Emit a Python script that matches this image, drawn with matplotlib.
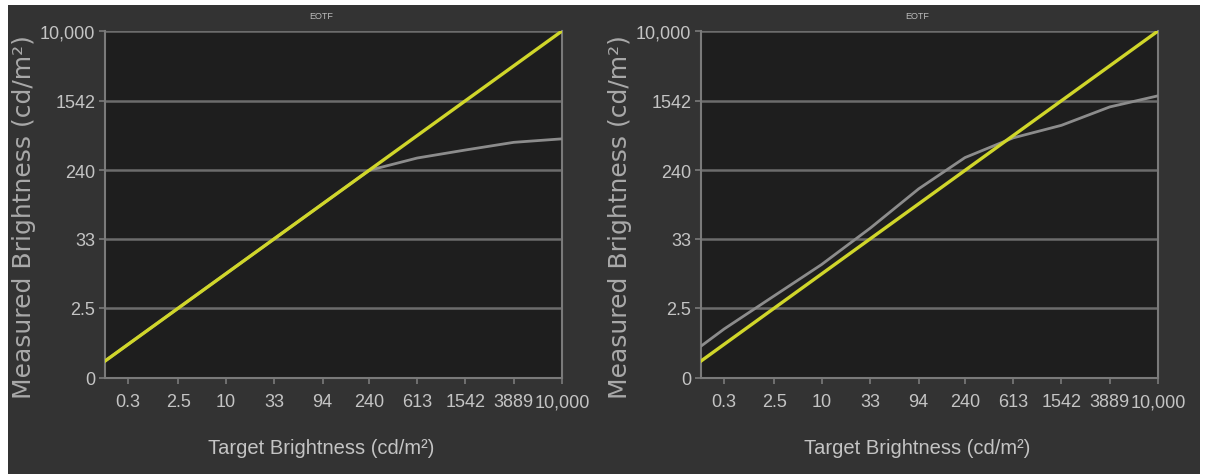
import numpy as np
import matplotlib
matplotlib.use("Agg")
import matplotlib.pyplot as plt
from matplotlib import font_manager
from matplotlib.patches import Rectangle

# target brightness (cd/m2) at each measured stimulus step
target = [0.057, 0.3, 2.5, 10, 33, 94, 240, 613, 1542, 3889, 10000]
# measured brightness, left and right display
measured_left = [0.057, 0.3, 2.5, 10, 33, 94, 240, 336, 417, 512, 562]
measured_right = [0.26, 0.84, 4.3, 14, 46, 144, 340, 577, 805, 1309, 1755]

x_ticks = [0.3, 2.5, 10, 33, 94, 240, 613, 1542, 3889, 10000]
x_labels = ["0.3", "2.5", "10", "33", "94", "240", "613", "1542", "3889", "10,000"]
y_ticks = [0, 2.5, 33, 240, 1542, 10000]
y_labels = ["0", "2.5", "33", "240", "1542", "10,000"]

# SMPTE ST 2084 (PQ) curve used for both axes
M1 = 2610 / 16384
M2 = 2523 / 4096 * 128
C1 = 3424 / 4096
C2 = 2413 / 4096 * 32
C3 = 2392 / 4096 * 32


def pq_encode(L):
    Y = np.clip(np.asarray(L, dtype=float), 0, None) / 10000.0
    Ym = Y ** M1
    return ((C1 + C2 * Ym) / (1 + C3 * Ym)) ** M2


def pq_decode(E):
    E = np.clip(np.asarray(E, dtype=float), 1e-12, None)
    Ep = E ** (1 / M2)
    num = np.maximum(Ep - C1, 0)
    den = C2 - C3 * Ep
    return 10000.0 * (num / den) ** (1 / M1)


def has_font(name):
    try:
        font_manager.findfont(name, fallback_to_default=False)
        return True
    except Exception:
        return False


if has_font("Liberation Sans Narrow"):
    narrow, tick_size, xlab_size = "Liberation Sans Narrow", 16, 17
else:
    narrow, tick_size, xlab_size = "Liberation Sans", 13, 14.5

txt = "#c4c4c4"
grid_c = "#6c6c6c"

fig = plt.figure(figsize=(12.08, 4.77), dpi=100, facecolor="white")
fig.patches.append(Rectangle((8 / 1208, 2 / 477), 1192 / 1208, 469 / 477,
                             transform=fig.transFigure, facecolor="#333333",
                             edgecolor="none", zorder=-5))

panels = [(105, measured_left), (701, measured_right)]
for left_px, measured in panels:
    ax = fig.add_axes([left_px / 1208, 98 / 477, 457 / 1208, 347 / 477])
    ax.set_facecolor("#1e1e1e")
    ax.set_xscale("function", functions=(pq_encode, pq_decode))
    ax.set_yscale("function", functions=(pq_encode, pq_decode))
    ax.set_xlim(0.057, 10000)
    ax.set_ylim(0, 10000)

    ax.plot(target, measured, color="#8c8c8c", lw=2.0, zorder=3)
    ax.plot(target, target, color="#d0d62a", lw=2.4, zorder=4)

    ax.set_xticks(x_ticks)
    ax.set_xticklabels(x_labels)
    ax.set_yticks(y_ticks)
    ax.set_yticklabels(y_labels)
    ax.minorticks_off()
    ax.grid(axis="y", color=grid_c, lw=1.8, zorder=1)
    ax.set_axisbelow(True)

    for side in ["left", "bottom", "right"]:
        ax.spines[side].set_color("#7a7a7a")
        ax.spines[side].set_linewidth(1.5)
    ax.spines["top"].set_visible(False)

    ax.tick_params(axis="both", colors="#7a7a7a", length=4, width=1.2,
                   labelcolor=txt, labelsize=tick_size)
    ax.tick_params(axis="x", pad=7)
    ax.tick_params(axis="y", pad=3)
    for lab in ax.get_xticklabels() + ax.get_yticklabels():
        lab.set_family(narrow)

    ax.set_ylabel("Measured Brightness (cd/m²)", color="#a9a9a9",
                  fontsize=18, family="DejaVu Sans")
    ax.yaxis.set_label_coords(-0.152, 0.467)
    ax.set_xlabel("Target Brightness (cd/m²)", color=txt, fontsize=xlab_size,
                  family=narrow)
    ax.xaxis.set_label_coords(0.474, -0.172)
    ax.text(0.474, 1.045, "EOTF", transform=ax.transAxes, ha="center",
            va="center", color="#bdbdbd", fontsize=6.5, family=narrow)

fig.savefig("out.png", dpi=100, facecolor="white")
